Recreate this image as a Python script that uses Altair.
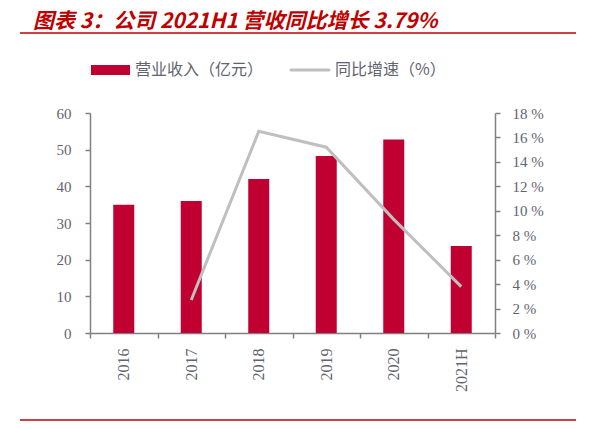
import altair as alt
import pandas as pd

years = ["2016", "2017", "2018", "2019", "2020", "2021H"]
revenue = [35.0, 36.0, 42.0, 48.3, 52.8, 23.7]
growth = [None, 2.7, 16.5, 15.2, 9.3, 3.79]

title_text = "图表 3：公司 2021H1 营收同比增长 3.79%"
legend_bar = "营业收入（亿元）"
legend_line = "同比增速（%）"

BAR = "#C00030"
LINE = "#BFBFBF"
AX = "#808080"
LAB = "#5f6470"
RED = "#C00000"
NUMFONT = "Liberation Serif"
CJK = "Noto Sans CJK SC"

df = pd.DataFrame({"year": years, "revenue": revenue, "growth": growth})

xenc = alt.X("year:N", sort=years, title=None,
             scale=alt.Scale(paddingInner=0.0, paddingOuter=0.0),
             axis=alt.Axis(labelAngle=270, labelFont=NUMFONT, labelFontSize=16,
                           labelColor=LAB, labelPadding=10, tickBand="extent",
                           tickSize=5, tickColor=AX, domainColor=AX, domainWidth=1.5,
                           tickWidth=1.5))

bars = alt.Chart(df).mark_bar(color=BAR, size=21).encode(
    x=xenc,
    y=alt.Y("revenue:Q", title=None, scale=alt.Scale(domain=[0, 60], nice=False),
            axis=alt.Axis(orient="left", values=[0, 10, 20, 30, 40, 50, 60], grid=False,
                          labelFont=NUMFONT, labelFontSize=15, labelColor=LAB,
                          labelPadding=14, tickSize=5, tickColor=AX, domainColor=AX,
                          domainWidth=1.5, tickWidth=1.5)),
)

line = alt.Chart(df).mark_line(color=LINE, strokeWidth=3).encode(
    x=xenc,
    y=alt.Y("growth:Q", title=None, scale=alt.Scale(domain=[0, 18], nice=False),
            axis=alt.Axis(orient="right", values=list(range(0, 19, 2)), grid=False,
                          labelExpr="datum.value + ' %'",
                          labelFont=NUMFONT, labelFontSize=15, labelColor=LAB,
                          labelPadding=12, tickSize=5, tickColor=AX, domainColor=AX,
                          domainWidth=1.5, tickWidth=1.5)),
)

one = pd.DataFrame({"t": [title_text]})

title = alt.Chart(one).mark_text(
    align="left", baseline="middle", font=CJK, fontSize=21, fontWeight="bold",
    fontStyle="italic", color=RED
).encode(x=alt.value(-57), y=alt.value(-91), text="t:N")

top_rule = alt.Chart(one).mark_rule(color=RED, strokeWidth=1.5).encode(
    x=alt.value(-70), x2=alt.value(486), y=alt.value(-80))
bottom_rule = alt.Chart(one).mark_rule(color=RED, strokeWidth=1.5).encode(
    x=alt.value(-70), x2=alt.value(486), y=alt.value(307))

leg_rect = alt.Chart(one).mark_rect(color=BAR).encode(
    x=alt.value(1), x2=alt.value(40), y=alt.value(-48), y2=alt.value(-38))
leg_rect_text = alt.Chart(pd.DataFrame({"t": [legend_bar]})).mark_text(
    align="left", baseline="middle", font=CJK, fontSize=16, color=LAB
).encode(x=alt.value(45), y=alt.value(-43), text="t:N")
leg_line = alt.Chart(one).mark_rule(color=LINE, strokeWidth=3, strokeCap="round").encode(
    x=alt.value(201), x2=alt.value(239), y=alt.value(-43))
leg_line_text = alt.Chart(pd.DataFrame({"t": [legend_line]})).mark_text(
    align="left", baseline="middle", font=CJK, fontSize=16, color=LAB
).encode(x=alt.value(245), y=alt.value(-43), text="t:N")

chart = alt.layer(
    bars, line, title, top_rule, bottom_rule, leg_rect, leg_rect_text, leg_line, leg_line_text
).resolve_scale(y="independent").properties(
    width=405, height=220,
    padding={"left": 82, "top": 105, "right": 86, "bottom": 88},
    autosize=alt.AutoSizeParams(type="none"),
).configure_view(stroke=None)

chart.save("out.html", embed_options={"renderer": "svg", "actions": False})
